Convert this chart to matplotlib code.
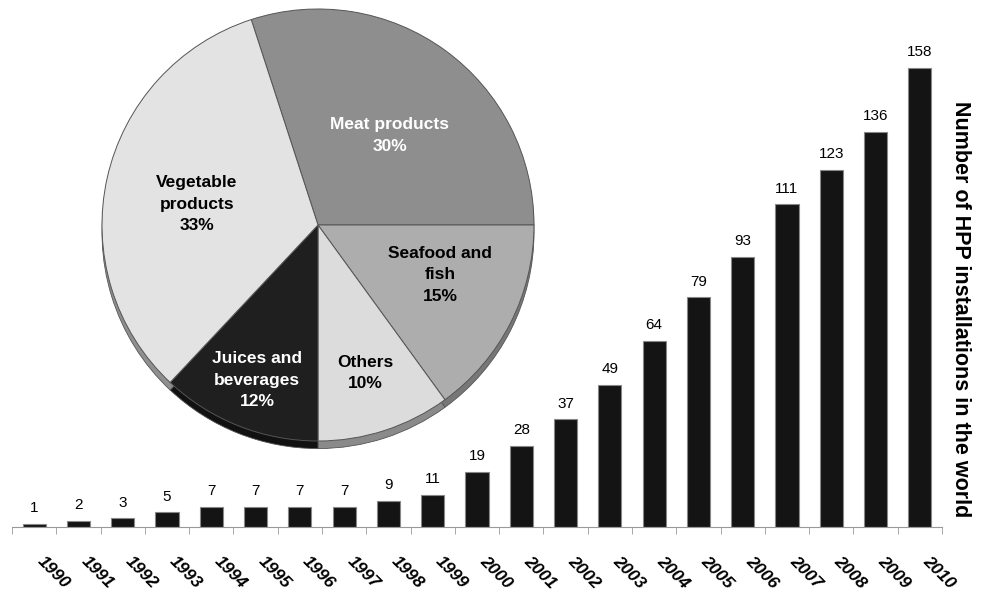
import matplotlib
matplotlib.use('Agg')
import matplotlib.pyplot as plt

plt.rcParams['font.family'] = ['Liberation Sans', 'DejaVu Sans']

years = [str(y) for y in range(1990, 2011)]
installations = [1, 2, 3, 5, 7, 7, 7, 7, 9, 11, 19, 28, 37, 49, 64, 79, 93, 111, 123, 136, 158]

sectors = ['Meat products', 'Seafood and\nfish', 'Others', 'Juices and\nbeverages', 'Vegetable\nproducts']
shares = [30, 15, 10, 12, 33]

# layout / style
sector_colors = ['#8e8e8e', '#adadad', '#dcdcdc', '#1f1f1f', '#e3e3e3']
shadow_colors = ['#5e5e5e', '#777777', '#8a8a8a', '#111111', '#8f8f8f']
text_colors = ['white', 'black', 'black', 'white', 'black']
label_pos = [(0.333, 0.413), (0.565, -0.231), (0.218, -0.685), (-0.282, -0.718), (-0.560, 0.097)]

W, H = 981, 596
fig = plt.figure(figsize=(W / 100, H / 100), dpi=100)

# bar chart
ax = fig.add_axes([12 / W, 1 - 527 / H, 930 / W, 507 / H])
x = range(len(years))
ax.bar(x, installations, width=0.52, color='#141414', edgecolor='#888888', linewidth=0.8)
for xi, v in zip(x, installations):
    ax.text(xi, v + 3, str(v), ha='center', va='bottom', fontsize=11)
ax.set_xlim(-0.5, len(years) - 0.5)
ax.set_ylim(0, 174.5)
ax.set_yticks([])
for s in ['top', 'left', 'right']:
    ax.spines[s].set_visible(False)
ax.spines['bottom'].set_color('#999999')
ax.set_xticks(list(x))
ax.set_xticklabels(years, rotation=-45, ha='left', va='bottom', rotation_mode='anchor',
                   fontsize=12.5, fontweight='bold', fontstyle='italic')
ax.tick_params(axis='x', which='major', length=0, pad=27)
ax.set_xticks([i - 0.5 for i in range(len(years) + 1)], minor=True)
ax.tick_params(axis='x', which='minor', length=5, color='#999999')
ax.yaxis.set_label_position('right')
ax.set_ylabel('Number of HPP installations in the world', rotation=-90, fontsize=15.5,
              fontweight='bold', va='center')
ax.yaxis.set_label_coords(1.02, 0.43)

# pie chart
r = 216
pax = fig.add_axes([(318 - r) / W, 1 - (225 + r) / H, 2 * r / W, 2 * r / H])
pax.pie(shares, colors=shadow_colors, startangle=108, counterclock=False, center=(0, -0.035),
        wedgeprops=dict(linewidth=0.6, edgecolor='#555555'))
pax.pie(shares, colors=sector_colors, startangle=108, counterclock=False,
        wedgeprops=dict(linewidth=0.7, edgecolor='#555555'))
for name, share, (lx, ly), tc in zip(sectors, shares, label_pos, text_colors):
    pax.text(lx, ly, f'{name}\n{share}%', ha='center', va='center', color=tc,
             fontsize=12.5, fontweight='bold', linespacing=1.55)
pax.set_xlim(-1, 1)
pax.set_ylim(-1, 1)
pax.set_aspect('equal')
pax.axis('off')

fig.savefig('out.png', dpi=100)
